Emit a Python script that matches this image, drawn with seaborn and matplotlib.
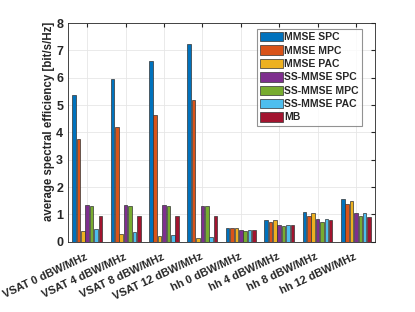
import pandas as pd
import numpy as np
import matplotlib.pyplot as plt
import matplotlib.transforms as mtransforms
import seaborn as sns

scenarios = ['VSAT 0 dBW/MHz', 'VSAT 4 dBW/MHz', 'VSAT 8 dBW/MHz', 'VSAT 12 dBW/MHz',
             'hh 0 dBW/MHz', 'hh 4 dBW/MHz', 'hh 8 dBW/MHz', 'hh 12 dBW/MHz']
methods = ['MMSE SPC', 'MMSE MPC', 'MMSE PAC', 'SS-MMSE SPC', 'SS-MMSE MPC', 'SS-MMSE PAC', 'MB']

mmse_spc = [5.37, 5.97, 6.60, 7.25, 0.52, 0.79, 1.09, 1.56]
mmse_mpc = [3.77, 4.20, 4.65, 5.17, 0.49, 0.74, 0.96, 1.37]
mmse_pac = [0.40, 0.30, 0.22, 0.15, 0.52, 0.79, 1.07, 1.48]
ss_spc = [1.36, 1.35, 1.33, 1.30, 0.43, 0.63, 0.83, 1.07]
ss_mpc = [1.30, 1.30, 1.30, 1.30, 0.40, 0.59, 0.73, 0.93]
ss_pac = [0.48, 0.37, 0.25, 0.17, 0.44, 0.63, 0.82, 1.04]
mb = [0.95, 0.95, 0.95, 0.95, 0.43, 0.62, 0.78, 0.91]

colors = ['#0072BD', '#D95319', '#EDB120', '#7E2F8E', '#77AC30', '#4DBEEE', '#A2142F']

series = [mmse_spc, mmse_mpc, mmse_pac, ss_spc, ss_mpc, ss_pac, mb]
rows = []
for m, vals in zip(methods, series):
    for s, v in zip(scenarios, vals):
        rows.append({'scenario': s, 'method': m, 'value': v})
df = pd.DataFrame(rows)

sns.set_style('white')
plt.rcParams['font.family'] = ['Liberation Sans', 'DejaVu Sans']
plt.rcParams['font.weight'] = 'bold'

fig = plt.figure(figsize=(4.15, 3.12), dpi=100)
ax = fig.add_axes([0.164, 0.225, 0.740, 0.701])

sns.barplot(data=df, x='scenario', y='value', hue='method', order=scenarios,
            hue_order=methods, palette=colors, saturation=1, width=0.8, gap=0.2,
            edgecolor='#333333', linewidth=0.5, ax=ax)

ax.set_xlim(-0.5, 7.5)
ax.set_ylim(0, 8)
ax.set_yticks(range(0, 9))
ax.set_xlabel('')
ax.set_ylabel('average spectral efficiency [bit/s/Hz]', fontsize=8.3, fontweight='bold')
ax.yaxis.set_label_coords(-0.042, 0.55)
ax.set_xticks(range(len(scenarios)))
ax.set_xticklabels(scenarios, rotation=25, ha='right', va='center',
                   rotation_mode='anchor', fontsize=7.9)
shift = mtransforms.ScaledTranslation(5 / 100, 0, fig.dpi_scale_trans)
for lab in ax.get_xticklabels():
    lab.set_transform(lab.get_transform() + shift)
ax.tick_params(axis='x', pad=10.5)
ax.tick_params(axis='y', labelsize=9)
ax.tick_params(direction='in', length=3, top=True, right=True, color='#262626')
ax.grid(True, color='#e6e6e6', linewidth=0.6)
ax.set_axisbelow(True)
for sp in ax.spines.values():
    sp.set_color('#262626')
    sp.set_linewidth(0.6)

leg = ax.legend(loc='upper right', fontsize=7.5, handlelength=2.2, handleheight=1.0,
                labelspacing=0.3, handletextpad=0.15, borderpad=0.3, borderaxespad=0,
                fancybox=False, bbox_to_anchor=(0.957, 0.973))
leg.get_frame().set_edgecolor('#777777')
leg.get_frame().set_linewidth(0.8)
for t in leg.get_texts():
    t.set_fontweight('bold')

fig.savefig('out.png', dpi=100)
